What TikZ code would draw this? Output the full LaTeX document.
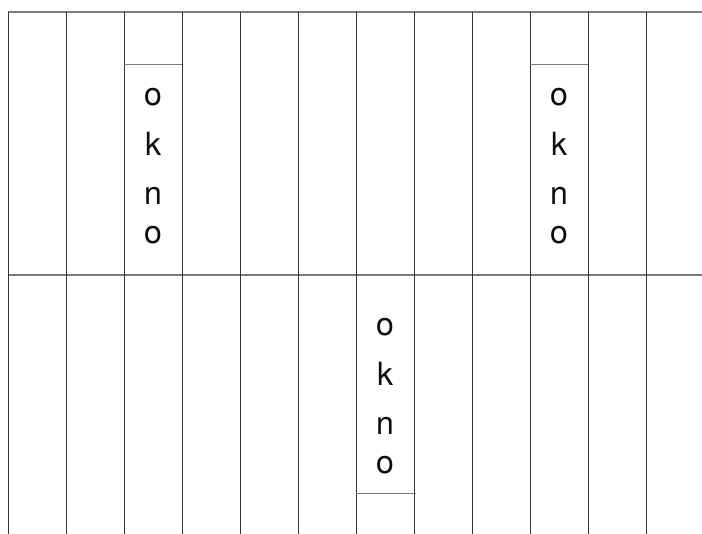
\documentclass[tikz,border=0pt]{standalone}
\usepackage{fontspec}
\setmainfont{TeX Gyre Heros}
\usetikzlibrary{positioning}
\definecolor{gridLine}{HTML}{333333}
\definecolor{floorLine}{HTML}{7A7A7A}
\tikzset{
  wall/.style={draw=gridLine, line width=0.9pt},
  floor/.style={draw=floorLine, line width=1.1pt},
  sill/.style={draw=floorLine, line width=1pt},
  letter/.style={anchor=base, inner sep=0pt, font=\fontsize{32}{32}\selectfont, text=black!95},
}
% one window: name, x centre, first baseline, line gaps
\newcommand{\oknoText}[4]{%
  \node[letter] (#1a) at (#2, #3) {o};
  \node[letter] (#1b) at (#2, #3+#4) {k};
  \node[letter] (#1c) at (#2, #3+2*#4-1) {n};
  \node[letter] (#1d) at (#2, #3+2*#4+38) {o};
}

\begin{document}
\begin{tikzpicture}[x=1pt, y=-1pt]

  \useasboundingbox (0,0) rectangle (702,534);

  % Floors
  \draw[floor] (8,12) -- (702,12);
  \draw[floor] (8,275) -- (702,275);

  % Walls
  \foreach \i in {0,...,11}
    \draw[wall] (8+58*\i,12) -- (8+58*\i,534);

  % Windows, top row
  \draw[sill] (124,65) -- (182,65);
  \oknoText{wl}{153}{106}{50}
  \draw[sill] (530,65) -- (588,65);
  \oknoText{wr}{559}{106}{50}

  % Window, bottom row
  \draw[sill] (356,494) -- (416,494);
  \oknoText{wb}{385}{336}{50}

\end{tikzpicture}
\end{document}
